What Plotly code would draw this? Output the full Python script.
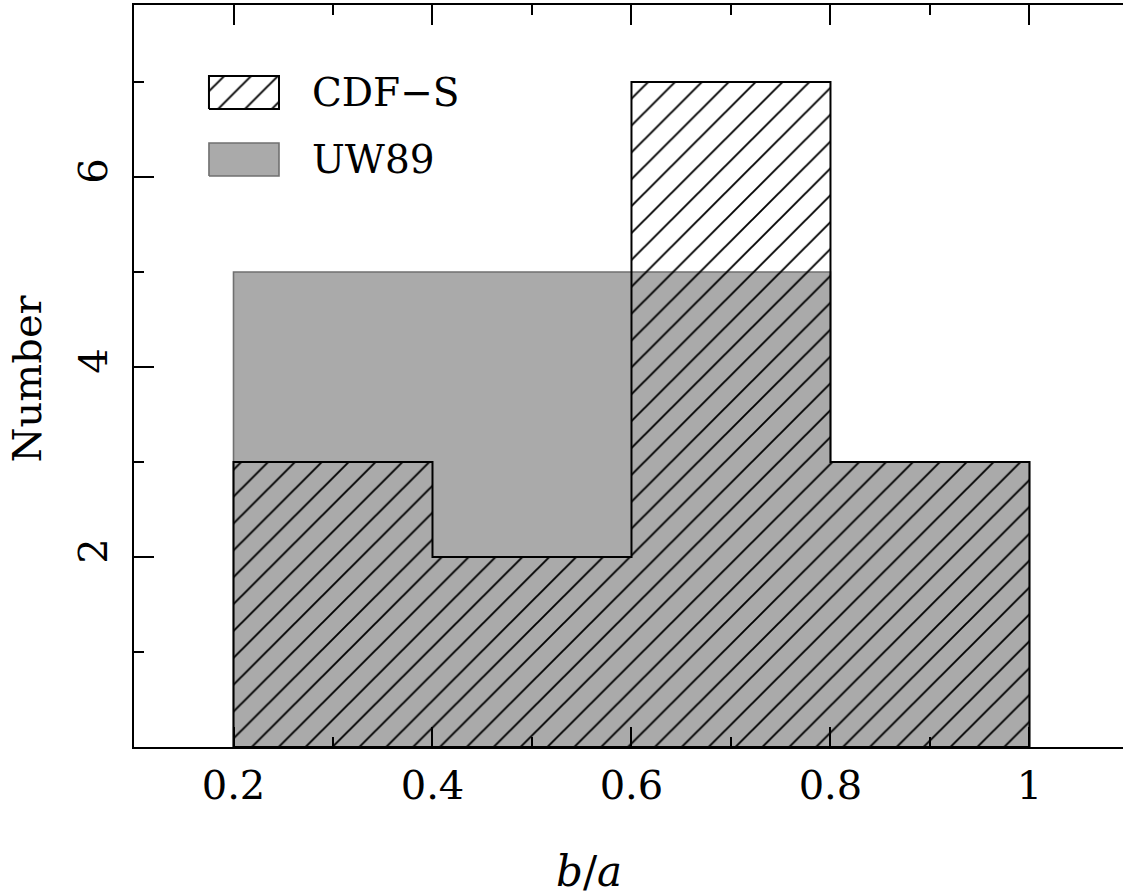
import plotly.graph_objects as go

# Histogram of axis ratios b/a
bin_edges = [0.2, 0.4, 0.6, 0.8, 1.0]
cdfs_counts = [3, 2, 7, 3]
uw89_counts = [5, 5, 5, 3]

series_names = ["CDF\u2212S", "UW89"]

x_tick_vals = [0.2, 0.4, 0.6, 0.8, 1.0]
x_tick_text = ["0.2", "0.4", "0.6", "0.8", "1"]
y_tick_vals = [2, 4, 6]
y_tick_text = ["2", "4", "6"]

FONT = "DejaVu Serif"
GRAY = "#aaaaaa"
GRAY_EDGE = "#707070"


def step_outline(edges, counts):
    """Closed outline of a step histogram."""
    xs = [edges[0]]
    ys = [0]
    for i, c in enumerate(counts):
        xs += [edges[i], edges[i + 1]]
        ys += [c, c]
    xs += [edges[-1], edges[0]]
    ys += [0, 0]
    return xs, ys


hatch = dict(shape="/", size=19, solidity=0.1, fgcolor="black",
             bgcolor="rgba(0,0,0,0)", fillmode="replace")

fig = go.Figure()

ux, uy = step_outline(bin_edges, uw89_counts)
fig.add_trace(go.Scatter(
    x=ux, y=uy, mode="lines", fill="toself", fillcolor=GRAY,
    line=dict(color=GRAY_EDGE, width=1.6), showlegend=False, hoverinfo="skip"))

cx, cy = step_outline(bin_edges, cdfs_counts)
fig.add_trace(go.Scatter(
    x=cx, y=cy, mode="lines", fill="toself", fillcolor="rgba(0,0,0,0)",
    fillpattern=hatch, line=dict(color="black", width=2),
    showlegend=False, hoverinfo="skip"))

# Key swatches on a unit overlay axis
def rect(x0, x1, y0, y1):
    return [x0, x1, x1, x0, x0], [y0, y0, y1, y1, y0]

sx, sy = rect(0.0758, 0.1466, 0.8598, 0.9043)
fig.add_trace(go.Scatter(
    x=sx, y=sy, xaxis="x3", yaxis="y3", mode="lines", fill="toself",
    fillcolor="rgba(0,0,0,0)", fillpattern=hatch,
    line=dict(color="black", width=2), showlegend=False, hoverinfo="skip"))
gx, gy = rect(0.0758, 0.1466, 0.7695, 0.814)
fig.add_trace(go.Scatter(
    x=gx, y=gy, xaxis="x3", yaxis="y3", mode="lines", fill="toself",
    fillcolor=GRAY, line=dict(color=GRAY_EDGE, width=1.6),
    showlegend=False, hoverinfo="skip"))

for name, yc in zip(series_names, [0.882, 0.792]):
    fig.add_annotation(
        x=0.178, y=yc, xref="x3", yref="y3", text=name, showarrow=False,
        xanchor="left", yanchor="middle",
        font=dict(family=FONT, size=39, color="black"))

fig.add_annotation(
    x=0.4604, y=-0.168, xref="paper", yref="paper",
    text="<i>b</i>/<i>a</i>", showarrow=False, xanchor="center", yanchor="middle",
    font=dict(family=FONT, size=42, color="black"))
fig.add_annotation(
    x=-0.108, y=0.497, xref="paper", yref="paper", text="Number",
    textangle=-90, showarrow=False, xanchor="center", yanchor="middle",
    font=dict(family=FONT, size=40, color="black"))

tick_common = dict(ticks="inside", ticklen=20, tickwidth=2, tickcolor="black",
                   showgrid=False, zeroline=False)

fig.update_layout(
    width=1123, height=896,
    margin=dict(l=134, r=0, t=5, b=149),
    plot_bgcolor="white", paper_bgcolor="white",
    showlegend=False,
    xaxis=dict(
        range=[0.1, 1.094], showline=True, linecolor="black", linewidth=2,
        mirror="ticks", tickvals=x_tick_vals, ticktext=x_tick_text,
        tickfont=dict(family=FONT, size=40, color="black"),
        ticklabelstandoff=2,
        minor=dict(ticks="inside", ticklen=10, tickwidth=2, tickcolor="black",
                   dtick=0.1, tick0=0),
        **tick_common),
    yaxis=dict(
        range=[0, 7.81], showline=True, linecolor="black", linewidth=2,
        mirror=False, tickvals=y_tick_vals, ticktext=y_tick_text,
        tickangle=-90,
        tickfont=dict(family=FONT, size=40, color="black"),
        ticklabelstandoff=9,
        minor=dict(ticks="inside", ticklen=10, tickwidth=2, tickcolor="black",
                   dtick=1, tick0=0),
        **tick_common),
    yaxis2=dict(
        range=[0, 7.81], overlaying="y", side="right", anchor="x",
        showline=False, tickvals=y_tick_vals, showticklabels=False,
        minor=dict(ticks="inside", ticklen=10, tickwidth=2, tickcolor="black",
                   dtick=1, tick0=0),
        **tick_common),
    xaxis3=dict(range=[0, 1], overlaying="x", visible=False, fixedrange=True),
    yaxis3=dict(range=[0, 1], overlaying="y", visible=False, fixedrange=True),
)

fig.write_html("out.html")
